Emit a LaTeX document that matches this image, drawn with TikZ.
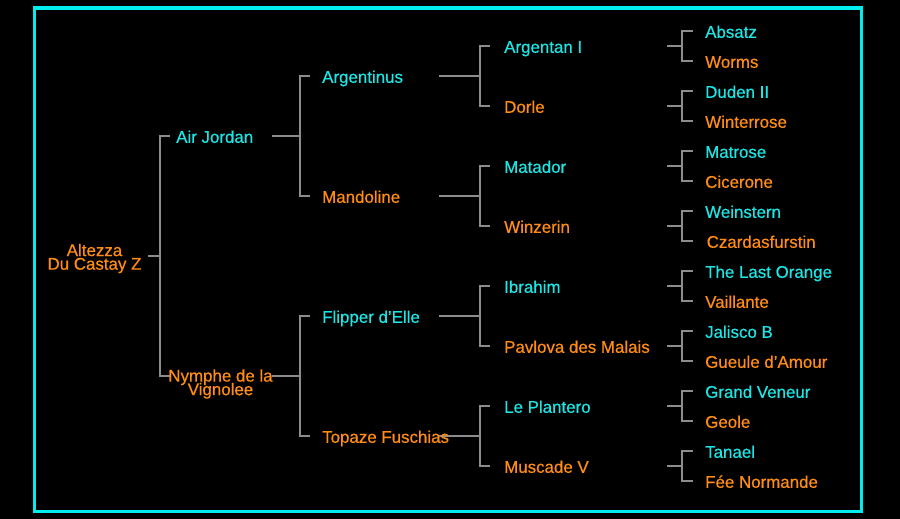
\documentclass[tikz,border=0pt]{standalone}
\usepackage{fontspec}
\setmainfont[FakeBold=0.6]{Liberation Sans}
\usetikzlibrary{backgrounds}
\definecolor{tcyan}{RGB}{30,228,228}
\definecolor{torange}{RGB}{255,140,20}
\definecolor{tline}{RGB}{140,140,140}
\definecolor{tborder}{RGB}{0,238,238}
\newcommand\tightlines{\lineskiplimit=-20pt\relax}
\newcommand\pn[8]{\node[#4] (#1) at (#2,#3+6.8) {#5};
  \coordinate (#1-t) at (#6,#3); \coordinate (#1-o) at (#7,#3); \coordinate (#1-j) at (#8,#3);}
\newcommand\br[3]{\draw[link] (#1-o) -- (#1-j); \draw[link] (#2-t) -| (#1-j) |- (#3-t);}
\begin{document}
\begin{tikzpicture}[x=1pt,y=-1pt,
  pname/.style={anchor=base west, inner sep=0pt, font=\fontsize{16.9}{13.6}\selectfont},
  cy/.style={pname,text=tcyan},
  or/.style={pname,text=torange},
  twoline/.style={anchor=center, inner sep=0pt, align=center, text=torange,
    font={\fontsize{16.9}{13.6}\selectfont\tightlines}},
  link/.style={draw=tline,line width=1.3pt}]
\useasboundingbox (0,0) rectangle (900,519);
% generation 0 and 1
\node[twoline] (alt) at (94.5,258.5) {Altezza\\Du Castay Z};
\coordinate (alt-o) at (148,256); \coordinate (alt-j) at (160,256);
\pn{aj}{176}{136}{cy}{Air Jordan}{170}{272}{300}
\node[twoline] (ny) at (220.5,384) {Nymphe de la\\Vignolee};
\coordinate (ny-t) at (170,376); \coordinate (ny-o) at (272,376); \coordinate (ny-j) at (300,376);
% generation 2
\pn{ar}{322}{76}{cy}{Argentinus}{310}{439}{480}
\pn{ma}{322}{196}{or}{Mandoline}{310}{439}{480}
\pn{fl}{322}{316}{cy}{Flipper d'Elle}{310}{439}{480}
\pn{to}{322}{436}{or}{Topaze Fuschias}{310}{439}{480}
% generation 3
\pn{ag}{504}{46}{cy}{Argentan I}{490}{667}{682}
\pn{do}{504}{106}{or}{Dorle}{490}{667}{682}
\pn{mt}{504}{166}{cy}{Matador}{490}{667}{682}
\pn{wz}{504}{226}{or}{Winzerin}{490}{667}{682}
\pn{ib}{504}{286}{cy}{Ibrahim}{490}{667}{682}
\pn{pa}{504}{346}{or}{Pavlova des Malais}{490}{667}{682}
\pn{lp}{504}{406}{cy}{Le Plantero}{490}{667}{682}
\pn{mu}{504}{466}{or}{Muscade V}{490}{667}{682}
% generation 4
\pn{ab}{705}{31}{cy}{Absatz}{693}{0}{0}
\pn{wo}{705}{61}{or}{Worms}{693}{0}{0}
\pn{du}{705}{91}{cy}{Duden II}{693}{0}{0}
\pn{wi}{705}{121}{or}{Winterrose}{693}{0}{0}
\pn{mr}{705}{151}{cy}{Matrose}{693}{0}{0}
\pn{ci}{705}{181}{or}{Cicerone}{693}{0}{0}
\pn{we}{705}{211}{cy}{Weinstern}{693}{0}{0}
\pn{cz}{706.5}{241}{or}{Czardasfurstin}{693}{0}{0}
\pn{tl}{705}{271}{cy}{The Last Orange}{693}{0}{0}
\pn{va}{705}{301}{or}{Vaillante}{693}{0}{0}
\pn{ja}{705}{331}{cy}{Jalisco B}{693}{0}{0}
\pn{gu}{705}{361}{or}{Gueule d'Amour}{693}{0}{0}
\pn{gv}{705}{391}{cy}{Grand Veneur}{693}{0}{0}
\pn{ge}{705}{421}{or}{Geole}{693}{0}{0}
\pn{ta}{705}{451}{cy}{Tanael}{693}{0}{0}
\pn{fe}{705}{481}{or}{Fée Normande}{693}{0}{0}
\begin{scope}[on background layer]
\fill[black] (0,0) rectangle (900,519);
\draw[tborder,line width=3.5pt] (34.5,8) rectangle (861.5,511.5);
\br{alt}{aj}{ny}
\br{aj}{ar}{ma}
\br{ny}{fl}{to}
\br{ar}{ag}{do}
\br{ma}{mt}{wz}
\br{fl}{ib}{pa}
\br{to}{lp}{mu}
\br{ag}{ab}{wo}
\br{do}{du}{wi}
\br{mt}{mr}{ci}
\br{wz}{we}{cz}
\br{ib}{tl}{va}
\br{pa}{ja}{gu}
\br{lp}{gv}{ge}
\br{mu}{ta}{fe}
\end{scope}
\end{tikzpicture}
\end{document}
